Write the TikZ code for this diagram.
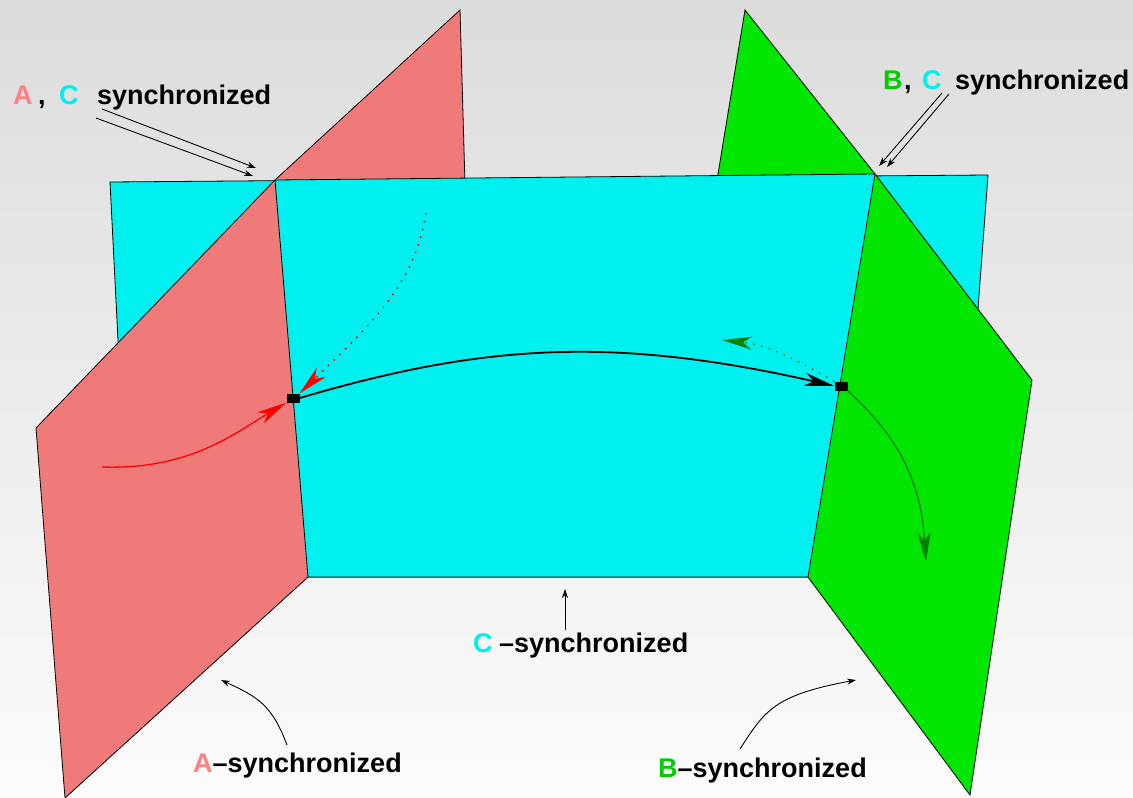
\documentclass[tikz,border=0pt]{standalone}
\usepackage{fontspec}
\setmainfont{Liberation Sans}
\usetikzlibrary{arrows.meta}
\definecolor{bgtop}{RGB}{220,220,220}
\definecolor{bgbot}{RGB}{252,252,252}
\definecolor{planered}{RGB}{240,122,122}
\definecolor{planecyan}{RGB}{0,240,240}
\definecolor{planegreen}{RGB}{0,230,0}
\definecolor{labA}{RGB}{255,128,128}
\definecolor{labB}{RGB}{0,204,0}
\definecolor{labC}{RGB}{0,238,238}
\definecolor{darkgr}{RGB}{0,128,0}
\tikzset{
  plane/.style={draw=black, line width=0.8pt, line join=miter},
  sq/.style={fill=black, minimum width=13pt, minimum height=9pt, inner sep=0pt},
  bigtip/.style={-{Stealth[length=30pt,width=13pt,inset=9pt]}},
  pathline/.style={bigtip, line width=1.8pt, black},
  redline/.style={bigtip, line width=1.3pt, red},
  reddots/.style={bigtip, line width=1.5pt, red, dash pattern=on 1.5pt off 6.5pt},
  greendots/.style={bigtip, line width=1.5pt, darkgr, dash pattern=on 1.5pt off 6.5pt},
  greenline/.style={bigtip, line width=1.3pt, darkgr},
  pointer/.style={-{Stealth[length=9pt,width=6pt]}, line width=0.9pt, black},
  lab/.style={inner sep=0pt, anchor=base west, font=\fontsize{27}{30}\selectfont\bfseries}
}
\begin{document}
\begin{tikzpicture}[x=1pt,y=-1pt]
\useasboundingbox (0,0) rectangle (1133,798);
\shade[top color=bgtop, bottom color=bgbot] (0,0) rectangle (1133,798);

% planes
\draw[plane, fill=planecyan] (110,182) -- (988,175) -- (958,577) -- (130,577) -- cycle;
\draw[plane, fill=planered] (36,428) -- (275,180) -- (460,10) -- (472,428) -- (65,798) -- cycle;
\draw[plane, fill=planegreen] (745,10) -- (875,174) -- (1032,380) -- (970,795) -- (680,405) -- cycle;
\draw[plane, fill=planecyan] (275,180) -- (875,174) -- (808,577) -- (308,577) -- cycle;

% points
\node[sq] (p) at (293,398) {};
\node[sq] (q) at (841,386) {};

% trajectories
\coordinate (r0) at (102,467);
\coordinate (r1) at (426,213);
\coordinate (g1) at (722,340);
\coordinate (g2) at (926,562);
\draw[redline] (r0) .. controls (190,470) and (235,433) .. (p.south west);
\draw[reddots] (r1) .. controls (415,285) and (370,325) .. (p.north east);
\draw[pathline] (p.east) .. controls (480,345) and (610,335) .. (q.west);
\draw[greendots] (q.north west) .. controls (800,362) and (770,345) .. (g1);
\draw[greenline] (q.south east) .. controls (890,430) and (920,470) .. (g2);

% labels
\node[lab, text=labA] (tlA) at (13,104) {A};
\node[lab] (tlcomma) at (38,104) {,};
\node[lab, text=labC] (tlC) at (59,104) {C};
\node[lab] (tlS) at (97,104) {synchronized};

\node[lab, text=labB] (trB) at (883,89) {B};
\node[lab] (trcomma) at (904,89) {,};
\node[lab, text=labC] (trC) at (922,89) {C};
\node[lab] (trS) at (955,89) {synchronized};

\node[lab, text=labC] (bcC) at (473,652) {C};
\node[lab] (bcS) at (499,652) {–synchronized};

\node[lab] (blS) at (193,772) {\textcolor{labA}{A}–synchronized};
\node[lab] (brS) at (658,777) {\textcolor{labB}{B}–synchronized};

% pointers
\coordinate (a1s) at (102,109); \coordinate (a1e) at (256,168);
\coordinate (a2s) at (96,118);  \coordinate (a2e) at (253,176);
\draw[pointer] (a1s) -- (a1e);
\draw[pointer] (a2s) -- (a2e);
\coordinate (b1s) at (942,93); \coordinate (b1e) at (879,166);
\coordinate (b2s) at (949,94); \coordinate (b2e) at (887,167);
\draw[pointer] (b1s) -- (b1e);
\draw[pointer] (b2s) -- (b2e);
\coordinate (cs) at (565,630); \coordinate (ce) at (565,589);
\draw[pointer] (cs) -- (ce);
\coordinate (as) at (287,745); \coordinate (ae) at (221,680);
\draw[pointer] (as) .. controls (272,705) and (258,697) .. (ae);
\coordinate (bs) at (740,749); \coordinate (be) at (856,680);
\draw[pointer] (bs) .. controls (765,710) and (775,695) .. (be);
\end{tikzpicture}
\end{document}
